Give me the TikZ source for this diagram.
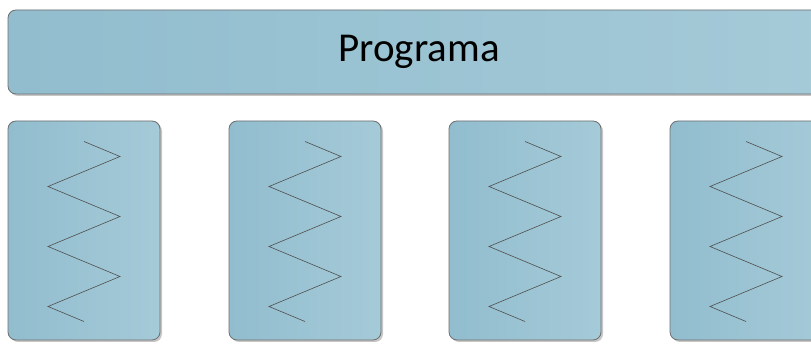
\documentclass[tikz,border=0pt]{standalone}
\usepackage{fontspec}
\setmainfont{Carlito}
\usetikzlibrary{calc,shadows}

\definecolor{barlight}{RGB}{165,202,216}
\definecolor{bardark}{RGB}{145,189,206}
\definecolor{rim}{RGB}{110,110,110}
\definecolor{wire}{RGB}{80,80,80}

\begin{document}
\begin{tikzpicture}
[x=1pt,y=1pt,
 block/.style={rounded corners=8pt,draw=rim,line width=0.8pt,
   left color=bardark,right color=barlight,
   drop shadow={shadow xshift=2pt,shadow yshift=-2pt,opacity=0.45,fill=gray},
   inner sep=0pt},
 hilo/.style={block,minimum width=152pt,minimum height=219pt},
 zig/.style={draw=wire,line width=0.6pt}]

\clip (0,0) rectangle (811,352);

\node (prog) at (419,300) [block,minimum width=822pt,minimum height=84pt]
  {\fontsize{41}{48}\selectfont Programa};

% four threads under the program
\foreach \i/\x in {1/84,2/305,3/525,4/746}{
  \node (h\i) at (\x,121.5) [hilo] {};
  \draw [zig] ($(h\i.center)+(0,89)$) -- ++(36,-15) -- ++(-72,-30) -- ++(72,-30)
    -- ++(-72,-30) -- ++(72,-30) -- ++(-72,-30) -- ++(36,-15);
}
\end{tikzpicture}
\end{document}
